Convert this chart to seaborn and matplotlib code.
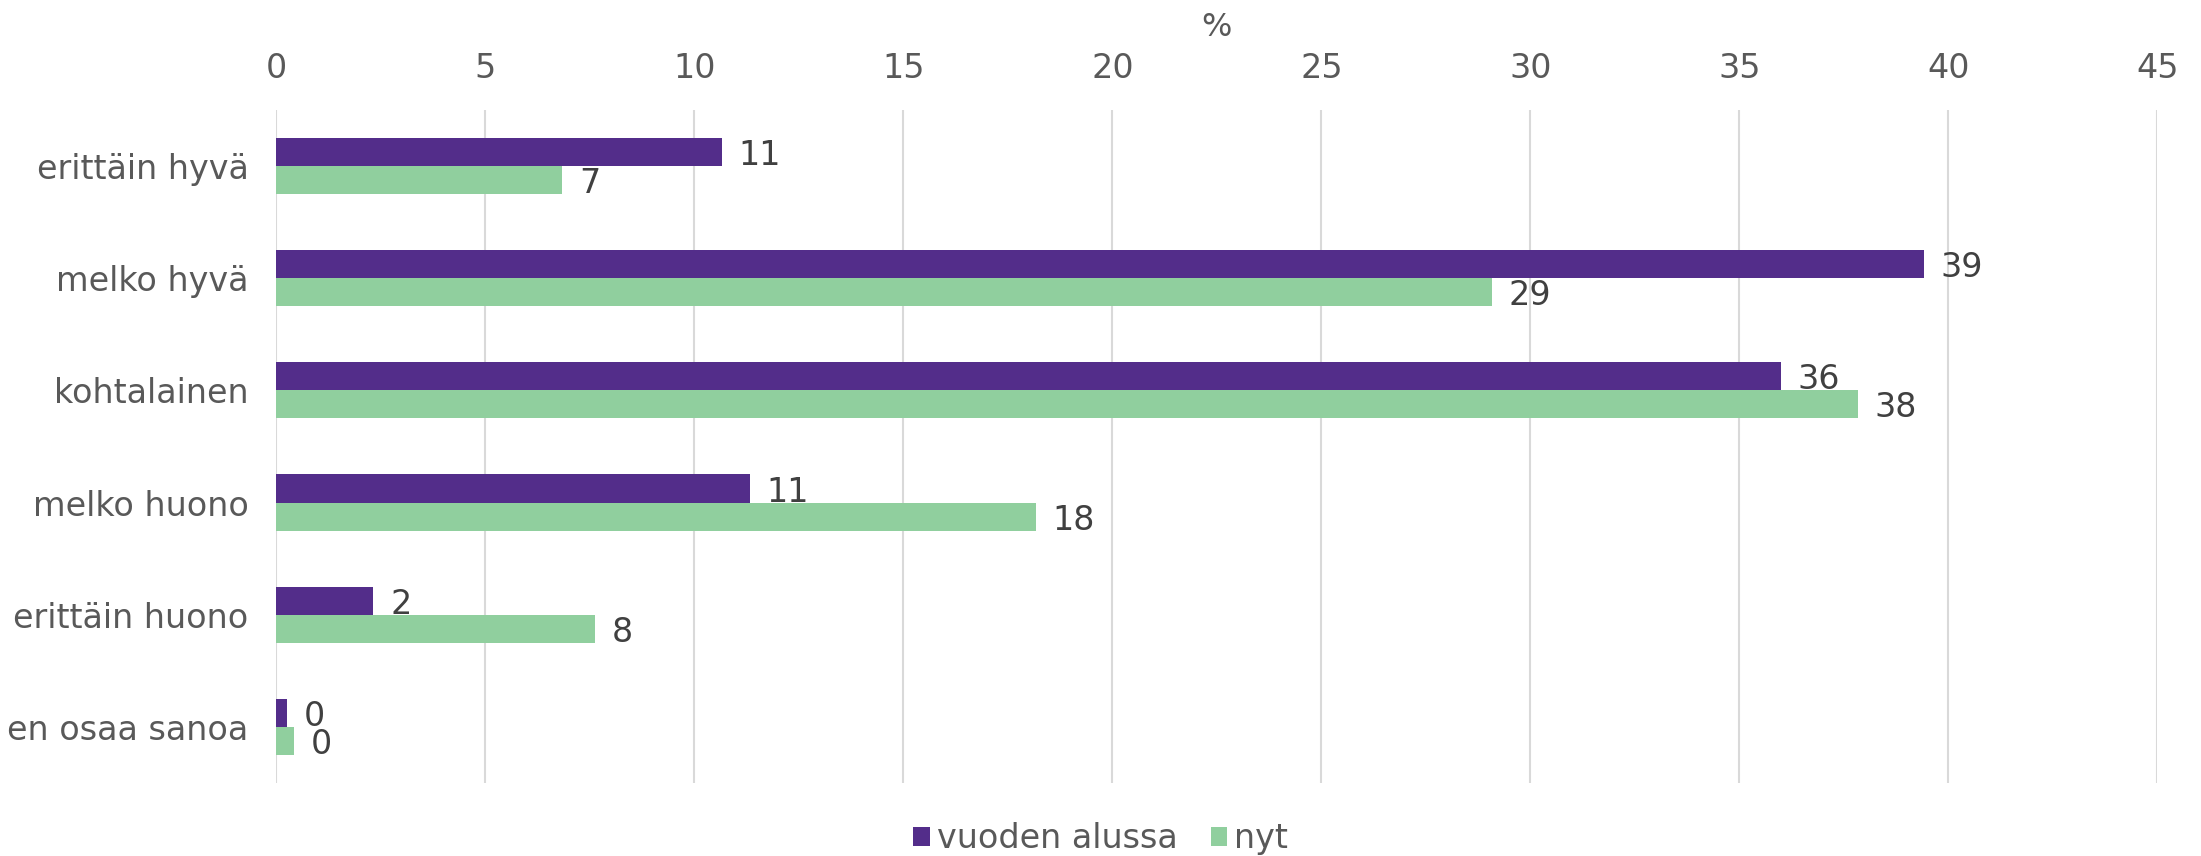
import pandas as pd
import seaborn as sns
import matplotlib.pyplot as plt

categories = ["erittäin hyvä", "melko hyvä", "kohtalainen", "melko huono", "erittäin huono", "en osaa sanoa"]
series = ["vuoden alussa", "nyt"]
alussa = [10.66, 39.42, 36.0, 11.32, 2.32, 0.26]
nyt = [6.84, 29.08, 37.83, 18.17, 7.63, 0.41]
colors = ["#532d8a", "#90cf9e"]

df = pd.DataFrame({
    "kategoria": categories * 2,
    "sarja": [series[0]] * len(categories) + [series[1]] * len(categories),
    "arvo": alussa + nyt,
})

sns.set_style("white")
plt.rcParams['font.family'] = ['DejaVu Sans']

fig = plt.figure(figsize=(22.01, 8.56), dpi=100)
ax = fig.add_axes([0.1256, 0.085, 0.8546, 0.787])

sns.barplot(data=df, y="kategoria", x="arvo", hue="sarja", orient="h",
            palette=colors, width=0.5, gap=0, saturation=1, ax=ax, errorbar=None,
            linewidth=0)

for c in ax.containers:
    labels = ax.bar_label(c, fmt="%.0f", padding=12, fontsize=24, color="#404040")
    for t in labels:
        t.set_va("center_baseline")

ax.set_xlim(0, 45)
ax.set_ylim(5.5, -0.5)
ax.set_xticks(range(0, 50, 5))
ax.xaxis.tick_top()
ax.xaxis.set_label_position("top")
ax.set_xlabel("%", fontsize=23, color="#595959", labelpad=11)
ax.set_ylabel("")
ax.tick_params(axis="x", labelsize=24, colors="#595959", length=0, pad=18)
ax.tick_params(axis="y", labelsize=24, colors="#595959", length=0, pad=20)
ax.grid(axis="x", color="#d9d9d9", linewidth=1.5)
ax.set_axisbelow(True)
for s in ax.spines.values():
    s.set_visible(False)

handles, labs = ax.get_legend_handles_labels()
ax.legend_.remove()
fig.legend(handles, labs, loc="lower center", bbox_to_anchor=(0.5, -0.034), ncol=2,
           frameon=False, fontsize=24, handlelength=0.5, handleheight=0.5,
           handletextpad=0.2, columnspacing=1.0, labelcolor="#595959")

fig.savefig("out.png", dpi=100)
